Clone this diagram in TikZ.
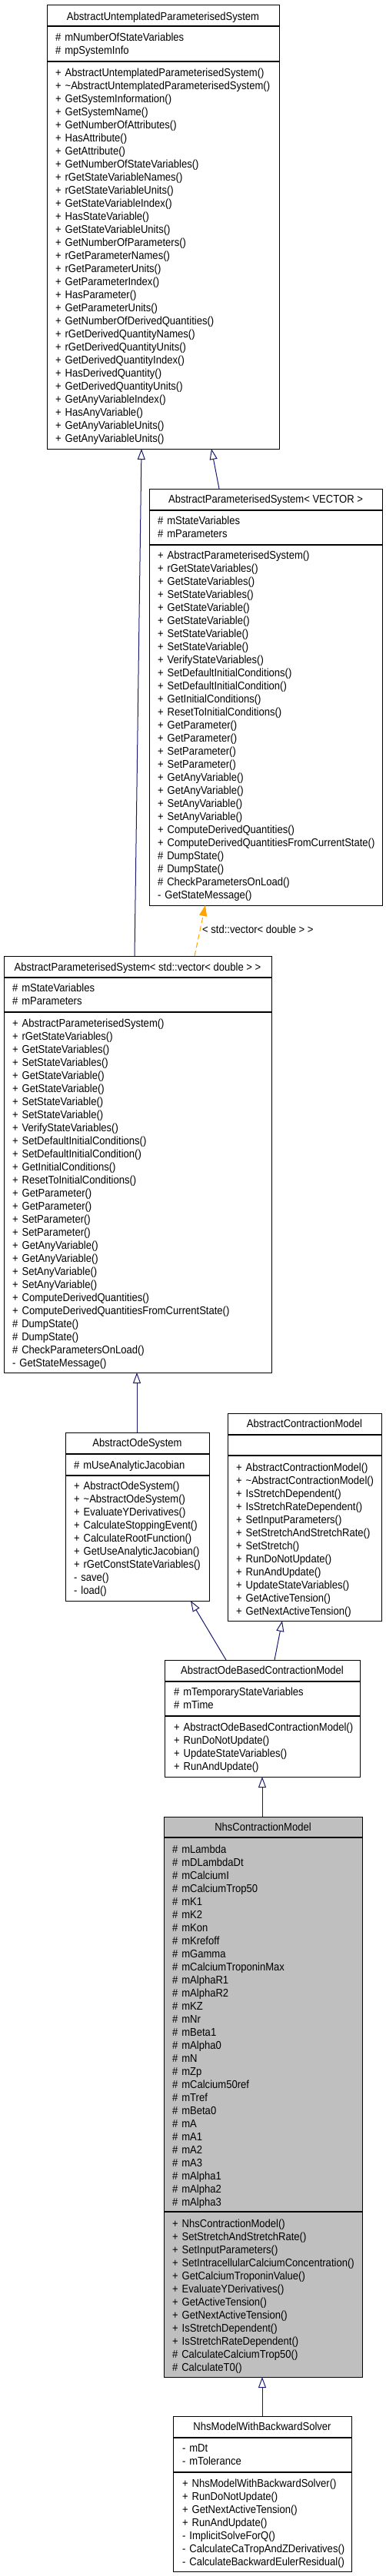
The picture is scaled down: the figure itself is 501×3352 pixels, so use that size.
\documentclass[tikz,border=0pt]{standalone}
\usepackage{fontspec}
\setmainfont{Liberation Sans}[FakeStretch=0.9]
\usetikzlibrary{arrows.meta}
\definecolor{navy}{RGB}{25,25,112}
\definecolor{dashorange}{RGB}{255,165,0}
\definecolor{nhsgrey}{RGB}{191,191,191}
\tikzset{
  cls/.style={draw=black, line width=1pt, anchor=north west, inner sep=0pt, outer sep=0pt},
  div/.style={draw=black, line width=1.2pt},
  ttl/.style={anchor=base, inner sep=0pt},
  lst/.style={anchor=base west, inner sep=0pt, align=left, text width=400pt},
  inh/.style={draw=navy, line width=1pt, -{Triangle[open, length=14pt, width=10pt]}},
  tmpl/.style={draw=dashorange, line width=1pt, dash pattern=on 7pt off 4pt, -{Triangle[length=14pt, width=10pt, fill=dashorange]}},
  lbl/.style={anchor=base west, inner sep=0pt},
}
\begin{document}
\begin{tikzpicture}[x=1pt, y=-1pt, font=\fontsize{14.5}{17}\selectfont]
\useasboundingbox (0,0) rectangle (501,3352);

% ---------- AbstractUntemplatedParameterisedSystem
\node[cls, minimum width=302pt, minimum height=578pt] (aups) at (61,6) {};
\node[ttl] (aups-t) at (212,26) {AbstractUntemplatedParameterisedSystem};
\draw[div] (aups.west |- 0,34) -- (aups.east |- 0,34);
\node[lst] (aups-a) at (72,53) {\# mNumberOfStateVariables\\\# mpSystemInfo};
\draw[div] (aups.west |- 0,80) -- (aups.east |- 0,80);
\node[lst] (aups-m) at (72,99) {+ AbstractUntemplatedParameterisedSystem()\\
+ \textasciitilde AbstractUntemplatedParameterisedSystem()\\
+ GetSystemInformation()\\
+ GetSystemName()\\
+ GetNumberOfAttributes()\\
+ HasAttribute()\\
+ GetAttribute()\\
+ GetNumberOfStateVariables()\\
+ rGetStateVariableNames()\\
+ rGetStateVariableUnits()\\
+ GetStateVariableIndex()\\
+ HasStateVariable()\\
+ GetStateVariableUnits()\\
+ GetNumberOfParameters()\\
+ rGetParameterNames()\\
+ rGetParameterUnits()\\
+ GetParameterIndex()\\
+ HasParameter()\\
+ GetParameterUnits()\\
+ GetNumberOfDerivedQuantities()\\
+ rGetDerivedQuantityNames()\\
+ rGetDerivedQuantityUnits()\\
+ GetDerivedQuantityIndex()\\
+ HasDerivedQuantity()\\
+ GetDerivedQuantityUnits()\\
+ GetAnyVariableIndex()\\
+ HasAnyVariable()\\
+ GetAnyVariableUnits()\\
+ GetAnyVariableUnits()};

% ---------- AbstractParameterisedSystem< VECTOR >
\node[cls, minimum width=303pt, minimum height=542pt] (apsv) at (194,636) {};
\node[ttl] (apsv-t) at (345.5,654) {AbstractParameterisedSystem< VECTOR >};
\draw[div] (apsv.west |- 0,664) -- (apsv.east |- 0,664);
\node[lst] (apsv-a) at (205,682) {\# mStateVariables\\\# mParameters};
\draw[div] (apsv.west |- 0,709) -- (apsv.east |- 0,709);
\node[lst] (apsv-m) at (205,727) {+ AbstractParameterisedSystem()\\
+ rGetStateVariables()\\
+ GetStateVariables()\\
+ SetStateVariables()\\
+ GetStateVariable()\\
+ GetStateVariable()\\
+ SetStateVariable()\\
+ SetStateVariable()\\
+ VerifyStateVariables()\\
+ SetDefaultInitialConditions()\\
+ SetDefaultInitialCondition()\\
+ GetInitialConditions()\\
+ ResetToInitialConditions()\\
+ GetParameter()\\
+ GetParameter()\\
+ SetParameter()\\
+ SetParameter()\\
+ GetAnyVariable()\\
+ GetAnyVariable()\\
+ SetAnyVariable()\\
+ SetAnyVariable()\\
+ ComputeDerivedQuantities()\\
+ ComputeDerivedQuantitiesFromCurrentState()\\
\# DumpState()\\
\# DumpState()\\
\# CheckParametersOnLoad()\\
- GetStateMessage()};

% ---------- AbstractParameterisedSystem< std::vector< double > >
\node[cls, minimum width=348pt, minimum height=542pt] (apsd) at (5,1244) {};
\node[ttl] (apsd-t) at (179,1263) {AbstractParameterisedSystem< std::vector< double > >};
\draw[div] (apsd.west |- 0,1272) -- (apsd.east |- 0,1272);
\node[lst] (apsd-a) at (16,1290) {\# mStateVariables\\\# mParameters};
\draw[div] (apsd.west |- 0,1317) -- (apsd.east |- 0,1317);
\node[lst] (apsd-m) at (16,1336) {+ AbstractParameterisedSystem()\\
+ rGetStateVariables()\\
+ GetStateVariables()\\
+ SetStateVariables()\\
+ GetStateVariable()\\
+ GetStateVariable()\\
+ SetStateVariable()\\
+ SetStateVariable()\\
+ VerifyStateVariables()\\
+ SetDefaultInitialConditions()\\
+ SetDefaultInitialCondition()\\
+ GetInitialConditions()\\
+ ResetToInitialConditions()\\
+ GetParameter()\\
+ GetParameter()\\
+ SetParameter()\\
+ SetParameter()\\
+ GetAnyVariable()\\
+ GetAnyVariable()\\
+ SetAnyVariable()\\
+ SetAnyVariable()\\
+ ComputeDerivedQuantities()\\
+ ComputeDerivedQuantitiesFromCurrentState()\\
\# DumpState()\\
\# DumpState()\\
\# CheckParametersOnLoad()\\
- GetStateMessage()};

% ---------- AbstractOdeSystem
\node[cls, minimum width=187pt, minimum height=219pt] (aode) at (85,1864) {};
\node[ttl] (aode-t) at (178.5,1882) {AbstractOdeSystem};
\draw[div] (aode.west |- 0,1892) -- (aode.east |- 0,1892);
\node[lst] (aode-a) at (96,1911) {\# mUseAnalyticJacobian};
\draw[div] (aode.west |- 0,1920) -- (aode.east |- 0,1920);
\node[lst] (aode-m) at (96,1938) {+ AbstractOdeSystem()\\
+ \textasciitilde AbstractOdeSystem()\\
+ EvaluateYDerivatives()\\
+ CalculateStoppingEvent()\\
+ CalculateRootFunction()\\
+ GetUseAnalyticJacobian()\\
+ rGetConstStateVariables()\\
- save()\\
- load()};

% ---------- AbstractContractionModel
\node[cls, minimum width=200pt, minimum height=270pt] (acm) at (296,1839) {};
\node[ttl] (acm-t) at (396,1857) {AbstractContractionModel};
\draw[div] (acm.west |- 0,1867) -- (acm.east |- 0,1867);
\draw[div] (acm.west |- 0,1894) -- (acm.east |- 0,1894);
\node[lst] (acm-m) at (307,1914) {+ AbstractContractionModel()\\
+ \textasciitilde AbstractContractionModel()\\
+ IsStretchDependent()\\
+ IsStretchRateDependent()\\
+ SetInputParameters()\\
+ SetStretchAndStretchRate()\\
+ SetStretch()\\
+ RunDoNotUpdate()\\
+ RunAndUpdate()\\
+ UpdateStateVariables()\\
+ GetActiveTension()\\
+ GetNextActiveTension()};

% ---------- AbstractOdeBasedContractionModel
\node[cls, minimum width=254pt, minimum height=152pt] (aobcm) at (214,2160) {};
\node[ttl] (aobcm-t) at (341,2178) {AbstractOdeBasedContractionModel};
\draw[div] (aobcm.west |- 0,2188) -- (aobcm.east |- 0,2188);
\node[lst] (aobcm-a) at (226,2206) {\# mTemporaryStateVariables\\\# mTime};
\draw[div] (aobcm.west |- 0,2233) -- (aobcm.east |- 0,2233);
\node[lst] (aobcm-m) at (226,2252) {+ AbstractOdeBasedContractionModel()\\
+ RunDoNotUpdate()\\
+ UpdateStateVariables()\\
+ RunAndUpdate()};

% ---------- NhsContractionModel
\node[cls, fill=nhsgrey, minimum width=258pt, minimum height=729pt] (nhs) at (213,2364) {};
\node[ttl] (nhs-t) at (342,2382) {NhsContractionModel};
\draw[div] (nhs.west |- 0,2391) -- (nhs.east |- 0,2391);
\node[lst] (nhs-a) at (224,2411) {\# mLambda\\
\# mDLambdaDt\\
\# mCalciumI\\
\# mCalciumTrop50\\
\# mK1\\
\# mK2\\
\# mKon\\
\# mKrefoff\\
\# mGamma\\
\# mCalciumTroponinMax\\
\# mAlphaR1\\
\# mAlphaR2\\
\# mKZ\\
\# mNr\\
\# mBeta1\\
\# mAlpha0\\
\# mN\\
\# mZp\\
\# mCalcium50ref\\
\# mTref\\
\# mBeta0\\
\# mA\\
\# mA1\\
\# mA2\\
\# mA3\\
\# mAlpha1\\
\# mAlpha2\\
\# mAlpha3};
\draw[div] (nhs.west |- 0,2878) -- (nhs.east |- 0,2878);
\node[lst] (nhs-m) at (224,2898) {+ NhsContractionModel()\\
+ SetStretchAndStretchRate()\\
+ SetInputParameters()\\
+ SetIntracellularCalciumConcentration()\\
+ GetCalciumTroponinValue()\\
+ EvaluateYDerivatives()\\
+ GetActiveTension()\\
+ GetNextActiveTension()\\
+ IsStretchDependent()\\
+ IsStretchRateDependent()\\
\# CalculateCalciumTrop50()\\
\# CalculateT0()};

% ---------- NhsModelWithBackwardSolver
\node[cls, minimum width=232pt, minimum height=202pt] (nhsb) at (225,3144) {};
\node[ttl] (nhsb-t) at (341,3162) {NhsModelWithBackwardSolver};
\draw[div] (nhsb.west |- 0,3172) -- (nhsb.east |- 0,3172);
\node[lst] (nhsb-a) at (237,3190) {- mDt\\- mTolerance};
\draw[div] (nhsb.west |- 0,3217) -- (nhsb.east |- 0,3217);
\node[lst] (nhsb-m) at (237,3236) {+ NhsModelWithBackwardSolver()\\
+ RunDoNotUpdate()\\
+ GetNextActiveTension()\\
+ RunAndUpdate()\\
- ImplicitSolveForQ()\\
- CalculateCaTropAndZDerivatives()\\
- CalculateBackwardEulerResidual()};

% ---------- connectors
\draw[inh] (175,0 |- apsd.north) -- (184,0 |- aups.south);
\draw[inh] (285,0 |- apsv.north) -- (275,0 |- aups.south);
\draw[tmpl] (253,0 |- apsd.north) -- (267,0 |- apsv.south);
\node[lbl] (tlabel) at (263,1214) {< std::vector< double > >};
\draw[inh] (178,0 |- aode.north) -- (178,0 |- apsd.south);
\draw[inh] (294,0 |- aobcm.north) -- (248,0 |- aode.south);
\draw[inh] (357,0 |- aobcm.north) -- (367,0 |- acm.south);
\draw[inh] (341,0 |- nhs.north) -- (341,0 |- aobcm.south);
\draw[inh] (341,0 |- nhsb.north) -- (341,0 |- nhs.south);
\end{tikzpicture}
\end{document}
